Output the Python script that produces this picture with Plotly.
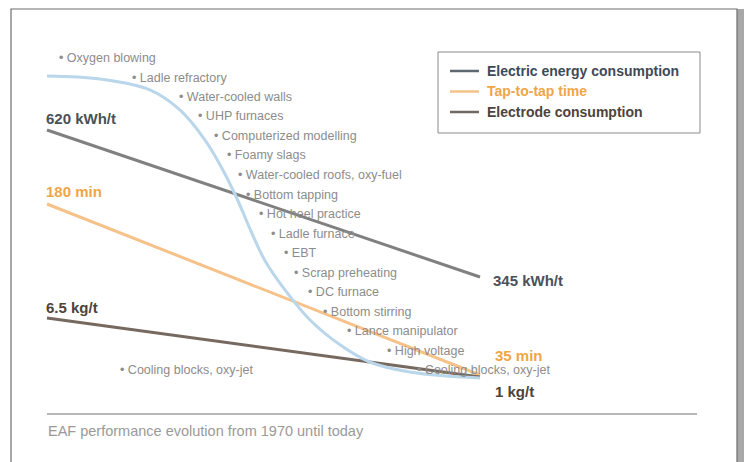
import plotly.graph_objects as go

# ---------------- data ----------------
years_lines = [1970, 2010]
energy_kwh = [620, 345]          # kWh/t
tap_min = [180, 35]              # min
electrode_kg = [6.5, 1]          # kg/t

# technology adoption curve (schematic, % of remaining potential)
adopt_years = [1970, 1974.9, 1979.5, 1982.3, 1984.6, 1986.0, 1987.4, 1988.8,
               1990.1, 1992.0, 1994.3, 1997.1, 1999.8, 2003.5, 2010]
adopt_vals = [100, 99.0, 95.4, 88.7, 78.8, 70.5, 60.6, 49.0,
              39.1, 29.1, 19.2, 10.9, 5.3, 2.0, 0]

milestones = ["Oxygen blowing", "Ladle refractory", "Water-cooled walls", "UHP furnaces",
              "Computerized modelling", "Foamy slags", "Water-cooled roofs, oxy-fuel",
              "Bottom tapping", "Hot heel practice", "Ladle furnace", "EBT",
              "Scrap preheating", "DC furnace", "Bottom stirring", "Lance manipulator",
              "High voltage", "Cooling blocks, oxy-jet", "Cooling blocks, oxy-jet"]
milestone_years = [1971.2, 1977.9, 1982.3, 1984.0, 1985.5, 1986.7, 1987.7, 1988.5,
                   1989.7, 1990.8, 1992.0, 1992.9, 1994.2, 1995.6, 1997.8, 2001.5,
                   2004.3, 1976.8]
milestone_rank = [0, 1, 2, 3, 4, 5, 6, 7, 8, 9, 10, 11, 12, 13, 14, 15, 16, 16]

series_names = ["Electric energy consumption", "Tap-to-tap time", "Electrode consumption"]
caption = "EAF performance evolution from 1970 until today"

# ---------------- style ----------------
W, H = 744, 462
FONT = "Liberation Sans, Arial, sans-serif"
c_energy, c_energy_txt = "#808080", "#4a5258"
c_tap, c_tap_txt = "#f6c28a", "#efa646"
c_elec, c_elec_txt = "#76695f", "#4d433b"
c_blue = "#b9d6ea"
legend_line_colors = ["#5d6873", "#f6c28a", "#6f6862"]
legend_text_colors = ["#3d4a58", "#efa646", "#4d433b"]

fig = go.Figure()
fig.add_trace(go.Scatter(x=adopt_years, y=adopt_vals, yaxis="y4", mode="lines",
                         line=dict(color=c_blue, width=3, shape="spline", smoothing=1.0),
                         showlegend=False, hoverinfo="skip"))
fig.add_trace(go.Scatter(x=years_lines, y=energy_kwh, yaxis="y", mode="lines",
                         line=dict(color=c_energy, width=3), showlegend=False,
                         name=series_names[0]))
fig.add_trace(go.Scatter(x=years_lines, y=tap_min, yaxis="y2", mode="lines",
                         line=dict(color=c_tap, width=3), showlegend=False,
                         name=series_names[1]))
fig.add_trace(go.Scatter(x=years_lines, y=electrode_kg, yaxis="y3", mode="lines",
                         line=dict(color=c_elec, width=3), showlegend=False,
                         name=series_names[2]))

ann = []
LAB = 15
def lab(x, y, yref, text, color, xshift, yshift):
    ann.append(dict(x=x, y=y, xref="x", yref=yref, text=f"<b>{text}</b>", showarrow=False,
                    xanchor="left", yanchor="middle", xshift=xshift, yshift=yshift,
                    font=dict(family=FONT, size=LAB, color=color)))

lab(years_lines[0], energy_kwh[0], "y", f"{energy_kwh[0]} kWh/t", c_energy_txt, -3, 12)
lab(years_lines[1], energy_kwh[1], "y", f"{energy_kwh[1]} kWh/t", c_energy_txt, 11, -3)
lab(years_lines[0], tap_min[0], "y2", f"{tap_min[0]} min", c_tap_txt, -3, 13)
lab(years_lines[1], tap_min[1], "y2", f"{tap_min[1]} min", c_tap_txt, 13, 20)
lab(years_lines[0], electrode_kg[0], "y3", f"{electrode_kg[0]} kg/t", c_elec_txt, -3, 11)
lab(years_lines[1], electrode_kg[1], "y3", f"{electrode_kg[1]:g} kg/t", c_elec_txt, 13, -14)

# milestones (staircase)
top_px, step_px = 58, 19.5
for name, yr, rk in zip(milestones, milestone_years, milestone_rank):
    ann.append(dict(x=yr, y=1 - (top_px + step_px * rk) / H, xref="x", yref="paper",
                    text="• " + name, showarrow=False, xanchor="left", yanchor="middle",
                    xshift=-3, font=dict(family=FONT, size=12.5, color="#8c8c8c")))

# caption
ann.append(dict(x=46 / W, y=1 - 431 / H, xref="paper", yref="paper", text=caption,
                showarrow=False, xanchor="left", yanchor="middle",
                font=dict(family=FONT, size=14.5, color="#9a9a9a")))

shapes = [
    # outer frame + right shadow
    dict(type="rect", xref="paper", yref="paper", x0=737 / W, x1=1, y0=-0.05, y1=1 - 9 / H,
         fillcolor="#a8a8a8", line=dict(width=0), layer="below"),
    dict(type="rect", xref="paper", yref="paper", x0=11 / W, x1=737 / W, y0=-0.05, y1=1 - 9 / H,
         fillcolor="white", line=dict(color="#6e6e6e", width=1.2), layer="below"),
    # bottom rule
    dict(type="line", xref="paper", yref="paper", x0=47 / W, x1=697 / W,
         y0=1 - 414 / H, y1=1 - 414 / H, line=dict(color="#a0a0a0", width=1.5)),
    # legend box
    dict(type="rect", xref="paper", yref="paper", x0=438 / W, x1=700 / W,
         y0=1 - 133 / H, y1=1 - 52 / H, fillcolor="white",
         line=dict(color="#8a8a8a", width=1)),
]

# legend entries
for i, (nm, lc, tc) in enumerate(zip(series_names, legend_line_colors, legend_text_colors)):
    yy = 1 - (71 + 20.5 * i) / H
    shapes.append(dict(type="line", xref="paper", yref="paper", x0=450 / W, x1=479 / W,
                       y0=yy, y1=yy, line=dict(color=lc, width=2.5)))
    ann.append(dict(x=485 / W, y=yy, xref="paper", yref="paper", text=f"<b>{nm}</b>",
                    showarrow=False, xanchor="left", yanchor="middle",
                    font=dict(family=FONT, size=14, color=tc)))

# axis ranges chosen so each series spans its schematic band
px_per_year = 433 / 40
x0 = 1970 - 47 / px_per_year
x1 = 1970 + (W - 47) / px_per_year

def yrange(v_top, py_top, v_bot, py_bot):
    k = (py_bot - py_top) / (v_top - v_bot)
    return [v_top - (H - py_top) / k, v_top + py_top / k]

ax = dict(visible=False, showgrid=False, zeroline=False, fixedrange=True)
fig.update_layout(
    width=W, height=H, margin=dict(l=0, r=0, t=0, b=0),
    paper_bgcolor="white", plot_bgcolor="rgba(0,0,0,0)", showlegend=False,
    xaxis=dict(range=[x0, x1], **ax),
    yaxis=dict(range=yrange(energy_kwh[0], 130, energy_kwh[1], 277), **ax),
    yaxis2=dict(range=yrange(tap_min[0], 204, tap_min[1], 375), overlaying="y", **ax),
    yaxis3=dict(range=yrange(electrode_kg[0], 318, electrode_kg[1], 377), overlaying="y", **ax),
    yaxis4=dict(range=yrange(adopt_vals[0], 76, adopt_vals[-1], 378), overlaying="y", **ax),
    annotations=ann, shapes=shapes,
)
fig.write_html("out.html")
